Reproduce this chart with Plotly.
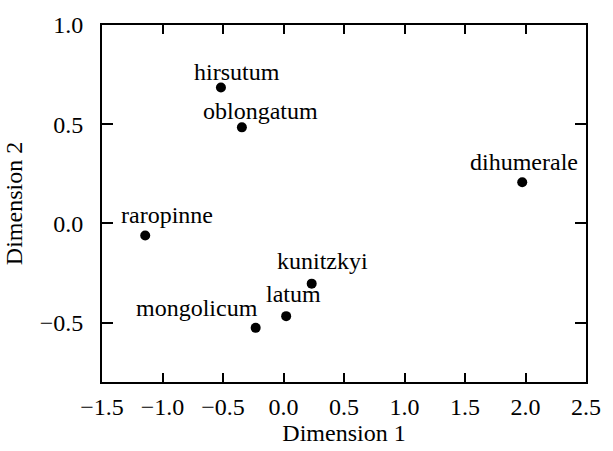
import plotly.graph_objects as go

names = ["hirsutum", "oblongatum", "raropinne", "kunitzkyi", "latum", "mongolicum", "dihumerale"]
dim1 = [-0.517, -0.344, -1.143, 0.233, 0.022, -0.230, 1.973]
dim2 = [0.685, 0.484, -0.061, -0.304, -0.468, -0.527, 0.207]
# label offsets in pixels (dx, dy) relative to point
label_dx = [16, 19, 22, 11, 7, -59, 2]
label_dy = [15, 16, 20, 23, 22, 20, 20]

x_ticks = [-1.5, -1.0, -0.5, 0.0, 0.5, 1.0, 1.5, 2.0, 2.5]
y_ticks = [-0.5, 0.0, 0.5, 1.0]

FONT = "Liberation Serif, Times New Roman, serif"
FS = 24

fig = go.Figure()
fig.add_trace(go.Scatter(x=dim1, y=dim2, mode="markers",
                         marker=dict(color="black", size=10),
                         showlegend=False, hoverinfo="skip"))
for n, x, y, dx, dy in zip(names, dim1, dim2, label_dx, label_dy):
    fig.add_annotation(x=x, y=y, xref="x", yref="y", text=n, showarrow=False,
                       xshift=dx, yshift=dy,
                       font=dict(family=FONT, size=FS, color="black"))

axis_common = dict(showline=True, linecolor="black", linewidth=2, mirror="ticks",
                   ticks="inside", tickcolor="black", tickwidth=1.5,
                   showgrid=False, zeroline=False,
                   tickfont=dict(family=FONT, size=FS, color="black"))

fig.update_xaxes(range=[-1.5, 2.5], tickvals=x_ticks,
                 ticktext=[f"{v:.1f}".replace("-", "\u2212") for v in x_ticks],
                 ticklen=9, ticklabelstandoff=2,
                 title=dict(text="Dimension 1", font=dict(family=FONT, size=FS, color="black"), standoff=2),
                 **axis_common)
fig.update_yaxes(range=[-0.8, 1.0], tickvals=y_ticks,
                 ticktext=[f"{v:.1f}".replace("-", "\u2212") for v in y_ticks],
                 ticklen=11, ticklabelstandoff=12,
                 title=dict(text="Dimension 2", font=dict(family=FONT, size=FS, color="black"), standoff=10),
                 **axis_common)

fig.update_layout(width=613, height=451, margin=dict(l=102, r=19, t=22, b=65),
                  plot_bgcolor="white", paper_bgcolor="white")

fig.write_html("out.html")
